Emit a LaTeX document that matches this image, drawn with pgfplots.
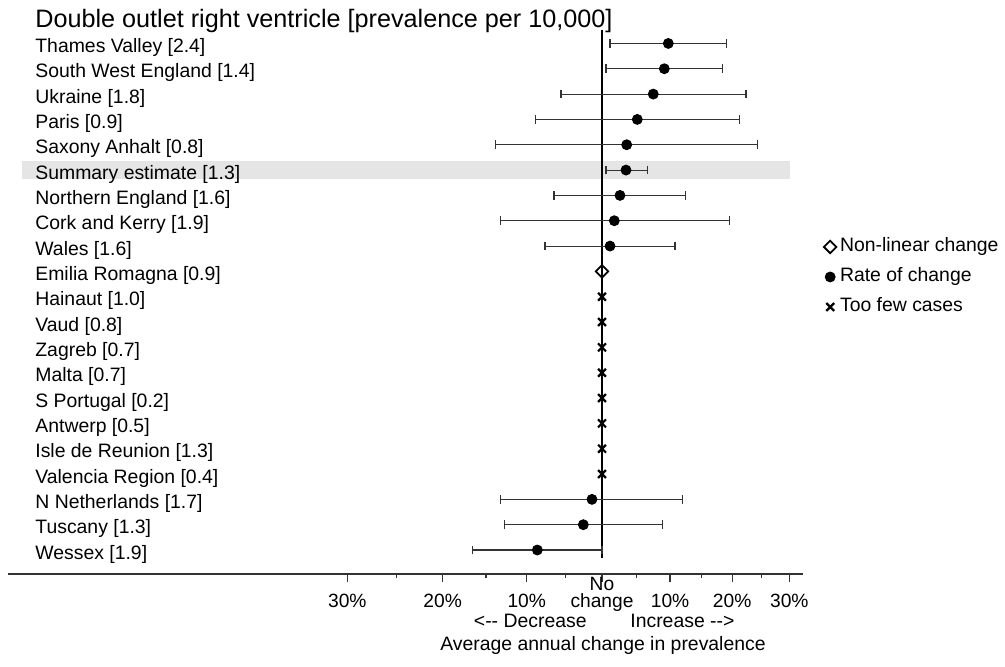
\documentclass[border=0pt]{standalone}
\usepackage{fontspec}
\setmainfont{Liberation Sans}
\usepackage{pgfplots}
\pgfplotsset{compat=1.18}
\usepackage{pgfplotstable}

% rows: 0 = bottom (Wessex) ... 20 = top (Thames Valley); values in % per year
\pgfplotstableread{
row est lo hi
20 9.73 1.13 19.08
19 9.12 0.56 18.35
18 7.45 -5.58 22.35
17 5.07 -8.87 21.20
16 3.52 -13.90 24.37
15 3.42 0.56 6.55
14 2.55 -6.50 12.37
13 1.74 -13.30 19.50
12 1.13 -7.67 10.76
2 -1.39 -13.20 11.90
1 -2.58 -12.80 8.87
0 -8.66 -16.60 0.00
}\ratedata
\pgfplotstableread{
row est
11 0
}\nonlindata
\pgfplotstableread{
row est
10 0
9 0
8 0
7 0
6 0
5 0
4 0
3 0
}\fewdata

\begin{document}
\begin{tikzpicture}[font=\fontsize{9.7}{11.6}\selectfont]
\begin{axis}[
  scale only axis, width=397.5pt, height=272pt,
  xmin=-0.8319, xmax=0.2815, ymin=-0.9475, ymax=20.53,
  axis x line*=bottom, axis y line=none,
  x axis line style={line width=0.65pt, color=black!80},
  ytick=\empty,
  xtick={-0.35667,-0.22314,-0.10536,0,0.09531,0.18232,0.26236},
  xticklabels={30\%,20\%,10\%,change,10\%,20\%,30\%},
  minor xtick={-0.28768,-0.16252,-0.05129,0.04879,0.13976,0.22314},
  xtick align=outside, major tick length=4pt, minor tick length=2pt,
  every tick/.style={line width=0.65pt, black!80},
  xticklabel style={anchor=base, yshift=-12.5pt, inner sep=0pt,
    font=\fontsize{9.6}{11.5}\selectfont},
  clip=false,
  legend style={draw=none, fill=none, inner sep=0pt, outer sep=0pt,
    at={(axis description cs:1.0264,0.546)}, anchor=west,
    font=\fontsize{9.7}{11.6}\selectfont, row sep=6pt,
    nodes={inner sep=0pt, text height=7pt, text depth=2pt},
    /tikz/every odd column/.append style={column sep=1.8pt}},
  legend cell align=left,
  legend image code/.code={\draw[#1] plot coordinates {(0pt,0pt)};},
]
\coordinate (bbsw) at (rel axis cs:0,0);
% summary band
\addplot[fill=black!10, draw=none, forget plot] coordinates
  {(-0.8123,14.66) (0.2633,14.66) (0.2633,15.36) (-0.8123,15.36)} -- cycle;
% no-change line
\addplot[black, line width=1pt, forget plot] coordinates {(0,-0.32) (0,20.53)};

\addplot[only marks, mark=square, mark size=2.2pt,
  mark options={rotate=45, fill=white, draw=black, line width=0.9pt}]
  table[x expr={ln(1+\thisrow{est}/100)}, y=row] {\nonlindata};
\addlegendentry{Non-linear change}

\addplot[only marks, mark=*, mark size=2.5pt, mark options={fill=black, draw=black},
  error bars/.cd, x dir=both, x explicit,
  error bar style={line width=0.55pt, color=black!80},
  error mark options={line width=0.55pt, color=black!80, mark size=2.2pt, rotate=90}]
  table[x expr={ln(1+\thisrow{est}/100)}, y=row,
    x error plus expr={ln(1+\thisrow{hi}/100)-ln(1+\thisrow{est}/100)},
    x error minus expr={ln(1+\thisrow{est}/100)-ln(1+\thisrow{lo}/100)}] {\ratedata};
\addlegendentry{Rate of change}

\addplot[only marks, mark=x, mark size=2.8pt, mark options={draw=black, line width=1.1pt}]
  table[x expr={ln(1+\thisrow{est}/100)}, y=row] {\fewdata};
\addlegendentry{Too few cases}

% title
\node[anchor=base west, inner sep=0pt, font=\fontsize{12.6}{15}\selectfont]
  at (axis cs:-0.7941,20.636) {Double outlet right ventricle [prevalence per 10,000]};
% row labels
\node[anchor=base west, inner sep=0pt, yshift=-4.5pt] at (axis cs:-0.7941,20) {Thames Valley [2.4]};
\node[anchor=base west, inner sep=0pt, yshift=-4.5pt] at (axis cs:-0.7941,19) {South West England [1.4]};
\node[anchor=base west, inner sep=0pt, yshift=-4.5pt] at (axis cs:-0.7941,18) {Ukraine [1.8]};
\node[anchor=base west, inner sep=0pt, yshift=-4.5pt] at (axis cs:-0.7941,17) {Paris [0.9]};
\node[anchor=base west, inner sep=0pt, yshift=-4.5pt] at (axis cs:-0.7941,16) {Saxony Anhalt [0.8]};
\node[anchor=base west, inner sep=0pt, yshift=-4.5pt] at (axis cs:-0.7941,15) {Summary estimate [1.3]};
\node[anchor=base west, inner sep=0pt, yshift=-4.5pt] at (axis cs:-0.7941,14) {Northern England [1.6]};
\node[anchor=base west, inner sep=0pt, yshift=-4.5pt] at (axis cs:-0.7941,13) {Cork and Kerry [1.9]};
\node[anchor=base west, inner sep=0pt, yshift=-4.5pt] at (axis cs:-0.7941,12) {Wales [1.6]};
\node[anchor=base west, inner sep=0pt, yshift=-4.5pt] at (axis cs:-0.7941,11) {Emilia Romagna [0.9]};
\node[anchor=base west, inner sep=0pt, yshift=-4.5pt] at (axis cs:-0.7941,10) {Hainaut [1.0]};
\node[anchor=base west, inner sep=0pt, yshift=-4.5pt] at (axis cs:-0.7941,9) {Vaud [0.8]};
\node[anchor=base west, inner sep=0pt, yshift=-4.5pt] at (axis cs:-0.7941,8) {Zagreb [0.7]};
\node[anchor=base west, inner sep=0pt, yshift=-4.5pt] at (axis cs:-0.7941,7) {Malta [0.7]};
\node[anchor=base west, inner sep=0pt, yshift=-4.5pt] at (axis cs:-0.7941,6) {S Portugal [0.2]};
\node[anchor=base west, inner sep=0pt, yshift=-4.5pt] at (axis cs:-0.7941,5) {Antwerp [0.5]};
\node[anchor=base west, inner sep=0pt, yshift=-4.5pt] at (axis cs:-0.7941,4) {Isle de Reunion [1.3]};
\node[anchor=base west, inner sep=0pt, yshift=-4.5pt] at (axis cs:-0.7941,3) {Valencia Region [0.4]};
\node[anchor=base west, inner sep=0pt, yshift=-4.5pt] at (axis cs:-0.7941,2) {N Netherlands [1.7]};
\node[anchor=base west, inner sep=0pt, yshift=-4.5pt] at (axis cs:-0.7941,1) {Tuscany [1.3]};
\node[anchor=base west, inner sep=0pt, yshift=-4.5pt] at (axis cs:-0.7941,0) {Wessex [1.9]};
% axis captions
\node[anchor=base, inner sep=0pt, yshift=-8.35pt, font=\fontsize{9.6}{11.5}\selectfont]
  at (axis cs:0,-0.9475) {No};
\node[anchor=base east, inner sep=0pt] at (axis cs:-0.021,-3.04) {<-{}- Decrease};
\node[anchor=base west, inner sep=0pt] at (axis cs:0.0392,-3.04) {Increase -{}->};
\node[anchor=base, inner sep=0pt] at (axis cs:0.0014,-3.948) {Average annual change in prevalence};
\end{axis}
\pgfresetboundingbox
\path[use as bounding box] ([shift={(-4pt,-46pt)}]bbsw) rectangle ++(502.5pt,333pt);
\end{tikzpicture}
\end{document}
